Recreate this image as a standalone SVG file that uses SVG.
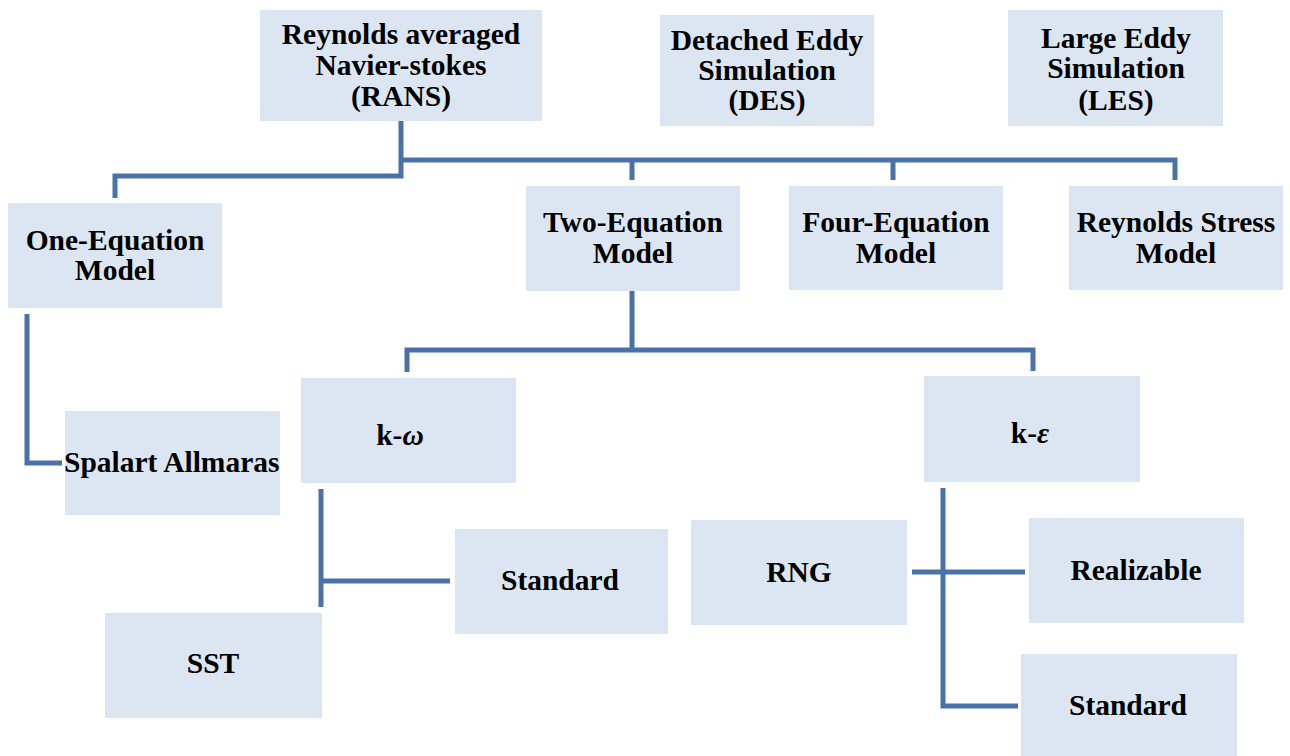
<svg xmlns="http://www.w3.org/2000/svg" width="1290" height="756" viewBox="0 0 1290 756">
  <style>
    .box { fill: #dce6f2; }
    .lbl { font-family: "Liberation Serif", "Times New Roman", serif; font-weight: bold; font-size: 29.5px; fill: #000; text-anchor: middle; }
    .sym { font-style: italic; }
    .wire { fill: none; stroke: #4a72a9; stroke-width: 5; stroke-linejoin: miter; }
  </style>
  <rect width="1290" height="756" fill="#ffffff"/>

  <!-- connectors -->
  <g id="connectors">
    <!-- RANS to first level -->
    <path class="wire" d="M401,121 V176 H115 V198"/>
    <path class="wire" d="M401,160 H1175 V180"/>
    <path class="wire" d="M632,160 V180"/>
    <path class="wire" d="M893,160 V180"/>
    <!-- one-equation branch -->
    <path class="wire" d="M27,314 V463 H62"/>
    <!-- two-equation branch -->
    <path class="wire" d="M632,291 V350"/>
    <path class="wire" d="M407,372 V350 H1033 V371"/>
    <!-- k-omega branch -->
    <path class="wire" d="M321,489 V607"/>
    <path class="wire" d="M321,581 H450"/>
    <!-- k-epsilon branch -->
    <path class="wire" d="M943,488 V706 H1018"/>
    <path class="wire" d="M912,572 H1025"/>
  </g>

  <g id="rans">
    <rect class="box" x="260" y="10" width="282" height="111"/>
    <text class="lbl" x="401" y="44">Reynolds averaged</text>
    <text class="lbl" x="401" y="75">Navier-stokes</text>
    <text class="lbl" x="401" y="106">(RANS)</text>
  </g>
  <g id="des">
    <rect class="box" x="660" y="15" width="214" height="111"/>
    <text class="lbl" x="767" y="50">Detached Eddy</text>
    <text class="lbl" x="767" y="80">Simulation</text>
    <text class="lbl" x="767" y="110">(DES)</text>
  </g>
  <g id="les">
    <rect class="box" x="1008" y="10" width="215" height="116"/>
    <text class="lbl" x="1116" y="48">Large Eddy</text>
    <text class="lbl" x="1116" y="78">Simulation</text>
    <text class="lbl" x="1116" y="110">(LES)</text>
  </g>
  <g id="one-eq">
    <rect class="box" x="8" y="203" width="214" height="105"/>
    <text class="lbl" x="115" y="250">One-Equation</text>
    <text class="lbl" x="115" y="280">Model</text>
  </g>
  <g id="two-eq">
    <rect class="box" x="526" y="186" width="214" height="105"/>
    <text class="lbl" x="633" y="232">Two-Equation</text>
    <text class="lbl" x="633" y="263">Model</text>
  </g>
  <g id="four-eq">
    <rect class="box" x="789" y="186" width="214" height="104"/>
    <text class="lbl" x="896" y="232">Four-Equation</text>
    <text class="lbl" x="896" y="263">Model</text>
  </g>
  <g id="rsm">
    <rect class="box" x="1069" y="186" width="214" height="104"/>
    <text class="lbl" x="1176" y="232">Reynolds Stress</text>
    <text class="lbl" x="1176" y="263">Model</text>
  </g>
  <g id="k-omega">
    <rect class="box" x="301" y="378" width="215" height="105"/>
    <text class="lbl" x="400" y="445">k-<tspan class="sym">ω</tspan></text>
  </g>
  <g id="k-epsilon">
    <rect class="box" x="924" y="376" width="216" height="106"/>
    <text class="lbl" x="1030" y="443">k-<tspan class="sym">ε</tspan></text>
  </g>
  <g id="spalart">
    <rect class="box" x="65" y="411" width="215" height="104"/>
    <text class="lbl" x="64" y="472" style="text-anchor:start">Spalart Allmaras</text>
  </g>
  <g id="kw-standard">
    <rect class="box" x="455" y="529" width="213" height="105"/>
    <text class="lbl" x="560" y="590">Standard</text>
  </g>
  <g id="sst">
    <rect class="box" x="105" y="613" width="217" height="105"/>
    <text class="lbl" x="213" y="673">SST</text>
  </g>
  <g id="rng">
    <rect class="box" x="691" y="520" width="216" height="105"/>
    <text class="lbl" x="799" y="582">RNG</text>
  </g>
  <g id="realizable">
    <rect class="box" x="1029" y="518" width="215" height="105"/>
    <text class="lbl" x="1136" y="580">Realizable</text>
  </g>
  <g id="ke-standard">
    <rect class="box" x="1021" y="654" width="216" height="102"/>
    <text class="lbl" x="1128" y="715">Standard</text>
  </g>
</svg>
